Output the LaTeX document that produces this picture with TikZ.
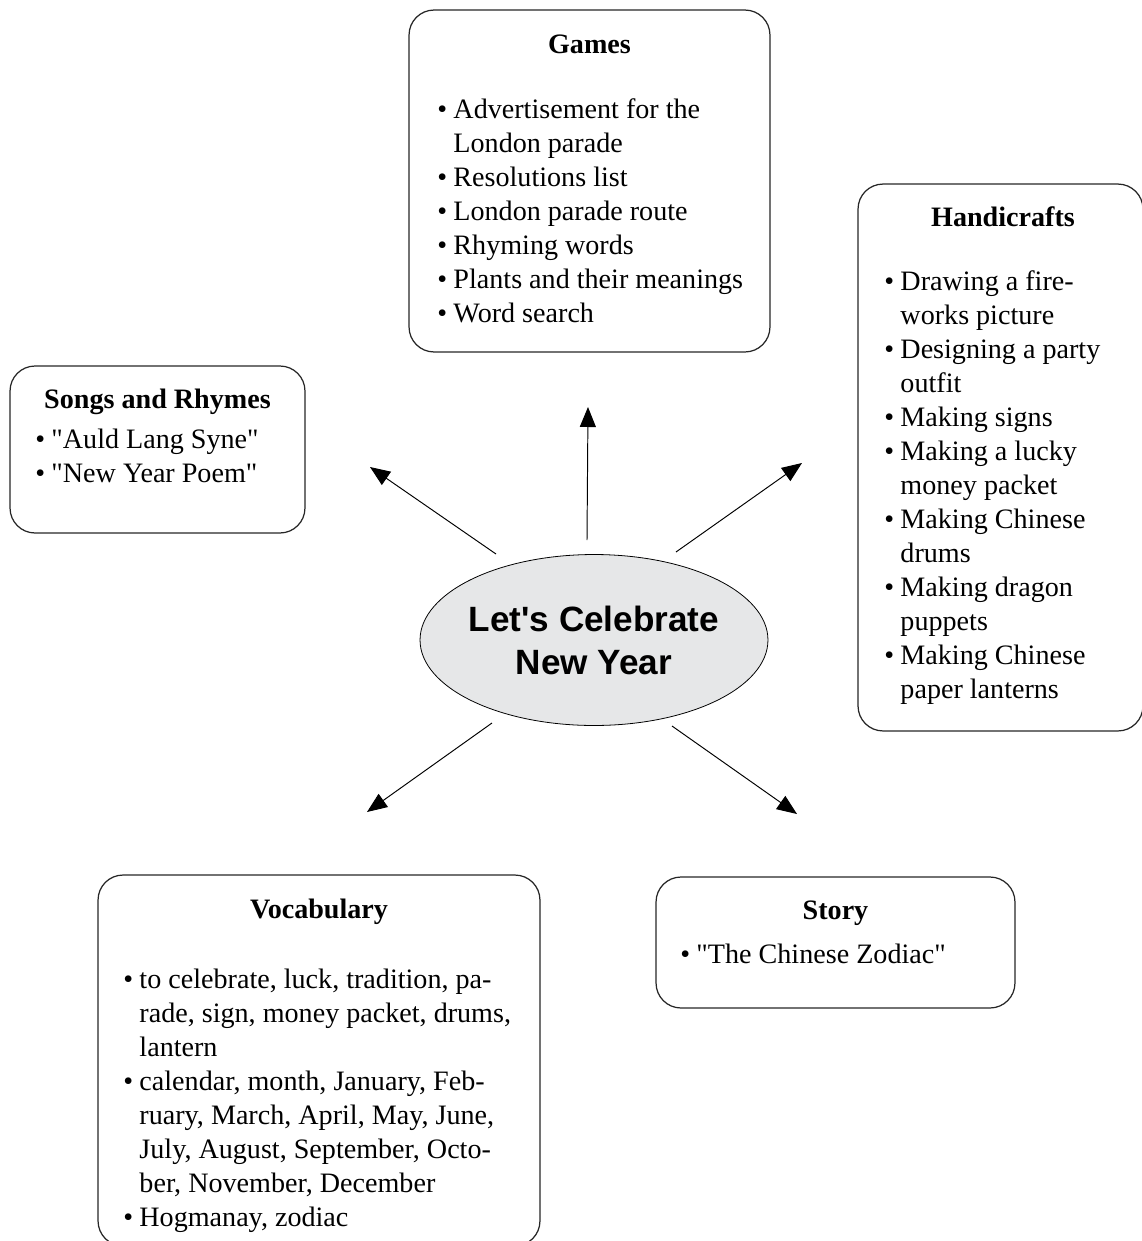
\documentclass[tikz,border=0pt]{standalone}
\usepackage{fontspec}
\setmainfont{Liberation Serif}[Ligatures=TeXOff]
\newfontfamily\hubfont{Liberation Sans}[Ligatures=TeXOff]
\usetikzlibrary{graphs,arrows.meta,shapes.geometric}
\definecolor{hubgrey}{HTML}{E6E7E8}
\tikzset{
    topicbox/.style ={
        shape=rectangle,
        draw=black!85,
        line width=0.7pt,
        rounded corners=0.5cm,
        inner sep=0pt
    },
    topichead/.style ={
        anchor=base,
        inner sep=0pt,
        font=\fontsize{16}{19.36}\selectfont\bfseries
    },
    topiclist/.style ={
        anchor=base west,
        inner sep=0pt,
        font=\fontsize{16}{19.36}\selectfont
    },
    hub/.style ={
        shape=ellipse,
        draw=black,
        line width=0.45pt,
        fill=hubgrey,
        inner xsep=-0.1cm,
        inner ysep=0pt,
        minimum width=6.96cm,
        minimum height=3.42cm,
        align=center,
        font=\fontsize{20}{24.5}\selectfont\hubfont\bfseries
    }
}

\begin{document}
\begin{tikzpicture}[x=0.02cm,y=-0.02cm,line width=0.55pt,
    >={Triangle[length=0.4cm,width=0.32cm]}]
    \useasboundingbox (0,0) rectangle (1142,1241);

    \node[hub] (hub) at (594,640) {Let's Celebrate\\New Year};

    % Games
    \node[topicbox,minimum width=7.22cm,minimum height=6.84cm] (games) at (589.5,181) {};
    \node[topichead] (gamesh) at (589.5,53) {Games};
    \node[topiclist] (gamesl) at (437,118) {%
        \begin{tabular}[t]{@{}l@{\hspace{3.5pt}}l@{}}
        \textbullet & Advertisement for the\\
                    & London parade\\
        \textbullet & Resolutions list\\
        \textbullet & London parade route\\
        \textbullet & Rhyming words\\
        \textbullet & Plants and their meanings\\
        \textbullet & Word search
        \end{tabular}};

    % Songs and Rhymes
    \node[topicbox,minimum width=5.9cm,minimum height=3.34cm] (songs) at (157.5,449.5) {};
    \node[topichead] (songsh) at (157.5,408) {Songs and Rhymes};
    \node[topiclist] (songsl) at (35,448) {%
        \begin{tabular}[t]{@{}l@{\hspace{3.5pt}}l@{}}
        \textbullet & "Auld Lang Syne"\\
        \textbullet & "New Year Poem"
        \end{tabular}};

    % Handicrafts
    \node[topicbox,minimum width=5.7cm,minimum height=10.94cm] (crafts) at (1000.5,457.5) {};
    \node[topichead] (craftsh) at (1003,226) {Handicrafts};
    \node[topiclist] (craftsl) at (884,290) {%
        \begin{tabular}[t]{@{}l@{\hspace{3.5pt}}l@{}}
        \textbullet & Drawing a fire-\\
                    & works picture\\
        \textbullet & Designing a party\\
                    & outfit\\
        \textbullet & Making signs\\
        \textbullet & Making a lucky\\
                    & money packet\\
        \textbullet & Making Chinese\\
                    & drums\\
        \textbullet & Making dragon\\
                    & puppets\\
        \textbullet & Making Chinese\\
                    & paper lanterns
        \end{tabular}};

    % Vocabulary
    \node[topicbox,minimum width=8.84cm,minimum height=7.42cm] (vocab) at (319,1060.5) {};
    \node[topichead] (vocabh) at (319,918) {Vocabulary};
    \node[topiclist] (vocabl) at (123,988) {%
        \begin{tabular}[t]{@{}l@{\hspace{3.5pt}}l@{}}
        \textbullet & to celebrate, luck, tradition, pa-\\
                    & rade, sign, money packet, drums,\\
                    & lantern\\
        \textbullet & calendar, month, January, Feb-\\
                    & ruary, March, April, May, June,\\
                    & July, August, September, Octo-\\
                    & ber, November, December\\
        \textbullet & Hogmanay, zodiac
        \end{tabular}};

    % Story
    \node[topicbox,minimum width=7.18cm,minimum height=2.62cm] (story) at (835.5,942.5) {};
    \node[topichead] (storyh) at (835.5,919) {Story};
    \node[topiclist] (storyl) at (680,963) {%
        \begin{tabular}[t]{@{}l@{\hspace{3.5pt}}l@{}}
        \textbullet & "The Chinese Zodiac"
        \end{tabular}};

    % arrow ends
    \coordinate (gs) at (587,540);
    \coordinate (ge) at (588,407);
    \coordinate (ss) at (496,554);
    \coordinate (se) at (370,467);
    \coordinate (cs) at (676,552);
    \coordinate (ce) at (802,463);
    \coordinate (vs) at (492,723);
    \coordinate (ve) at (367,812);
    \coordinate (ts) at (672,726);
    \coordinate (te) at (797,814);
    \graph{
        (gs)->(ge);
        (ss)->(se);
        (cs)->(ce);
        (vs)->(ve);
        (ts)->(te);
    };
\end{tikzpicture}
\end{document}
